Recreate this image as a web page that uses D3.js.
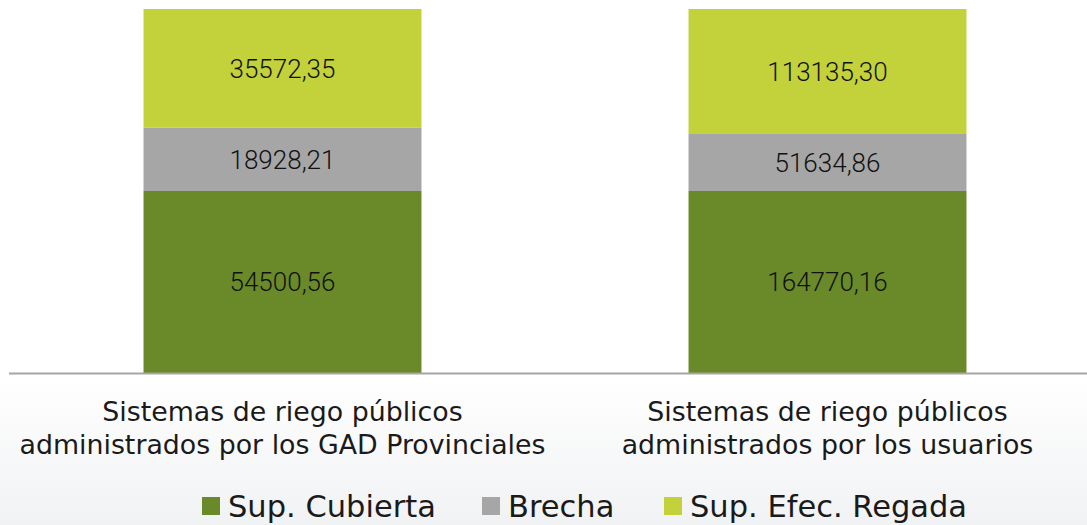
<!DOCTYPE html>
<html>
<head>
<meta charset="utf-8">
<script src="https://cdn.jsdelivr.net/npm/d3@7"></script>
<style>
  body { margin: 0; background: #fff; }
  svg { display: block; }
</style>
</head>
<body>
<svg id="chart"></svg>
<script>
'use strict';

// categories and series
var categories = [
	['Sistemas de riego públicos', 'administrados por los GAD Provinciales'],
	['Sistemas de riego públicos', 'administrados por los usuarios']
];
var seriesNames = ['Sup. Cubierta', 'Brecha', 'Sup. Efec. Regada'];
var supCubierta = [54500.56, 164770.16];
var brecha = [18928.21, 51634.86];
var supRegada = [35572.35, 113135.30];
var colors = ['#6a8a29', '#a6a6a6', '#c3d13a'];

var width = 1087, height = 525;
var svg = d3.select('#chart').attr('width', width).attr('height', height);

// background gradient below the axis
var defs = svg.append('defs');
var grad = defs.append('linearGradient').attr('id', 'bg')
	.attr('x1', 0).attr('y1', 0).attr('x2', 0).attr('y2', 1);
grad.append('stop').attr('offset', '0%').attr('stop-color', '#ffffff');
grad.append('stop').attr('offset', '100%').attr('stop-color', '#f1f2f4');
svg.append('rect').attr('x', 0).attr('y', 374).attr('width', width).attr('height', height - 374)
	.attr('fill', 'url(#bg)');

// build stacked (100%) data
var rows = categories.map(function(c, i) {
	var total = supCubierta[i] + brecha[i] + supRegada[i];
	return { idx: i, vals: [supCubierta[i], brecha[i], supRegada[i]], total: total };
});
var keys = [0, 1, 2];
var stack = d3.stack()
	.keys(keys)
	.value(function(d, k) { return d.vals[k] / d.total; });
var layers = stack(rows);

var xScale = d3.scaleBand()
	.domain(d3.range(categories.length))
	.range([10, 1100])
	.paddingInner(0.49)
	.paddingOuter(0.245);
var yScale = d3.scaleLinear().domain([0, 1]).range([373, 9]);

var g = svg.append('g');
layers.forEach(function(layer, k) {
	g.append('g').selectAll('rect').data(layer).enter().append('rect')
		.attr('x', function(d, i) { return xScale(i); })
		.attr('y', function(d) { return yScale(d[1]); })
		.attr('width', xScale.bandwidth())
		.attr('height', function(d) { return yScale(d[0]) - yScale(d[1]); })
		.attr('fill', colors[k]);

	g.append('g').selectAll('text').data(layer).enter().append('text')
		.attr('x', function(d, i) { return xScale(i) + xScale.bandwidth() / 2; })
		.attr('y', function(d) { return (yScale(d[0]) + yScale(d[1])) / 2; })
		.attr('dy', '0.36em')
		.attr('text-anchor', 'middle')
		.style('font-family', 'Roboto, sans-serif')
		.style('font-weight', 300)
		.style('font-size', '26px')
		.style('fill', '#111')
		.text(function(d) { return d3.format('.2f')(d.data.vals[k]).replace('.', ','); });
});

// axis line
svg.append('line')
	.attr('x1', 9).attr('x2', width)
	.attr('y1', 373.5).attr('y2', 373.5)
	.attr('stroke', '#a6a6a6').attr('stroke-width', 2);

// category labels
var catG = svg.append('g').selectAll('text').data(categories).enter().append('text')
	.attr('x', function(d, i) { return xScale(i) + xScale.bandwidth() / 2; })
	.attr('y', 421)
	.attr('text-anchor', 'middle')
	.style('font-family', '"DejaVu Sans", sans-serif')
	.style('font-size', '26.8px')
	.style('fill', '#1a1a1a');
catG.selectAll('tspan').data(function(d) { return d; }).enter().append('tspan')
	.attr('x', function() { return d3.select(this.parentNode).attr('x'); })
	.attr('dy', function(d, j) { return j === 0 ? 0 : 33; })
	.text(function(d) { return d; });

// legend
var legendX = [202, 482, 664];
var legend = svg.append('g').selectAll('g').data(seriesNames).enter().append('g')
	.attr('transform', function(d, i) { return 'translate(' + legendX[i] + ',497)'; });
legend.append('rect').attr('width', 18).attr('height', 18)
	.attr('fill', function(d, i) { return colors[i]; });
legend.append('text')
	.attr('x', 26).attr('y', 20)
	.style('font-family', '"DejaVu Sans", sans-serif')
	.style('font-size', '30.5px')
	.style('fill', '#1a1a1a')
	.text(function(d) { return d; });
</script>
</body>
</html>
